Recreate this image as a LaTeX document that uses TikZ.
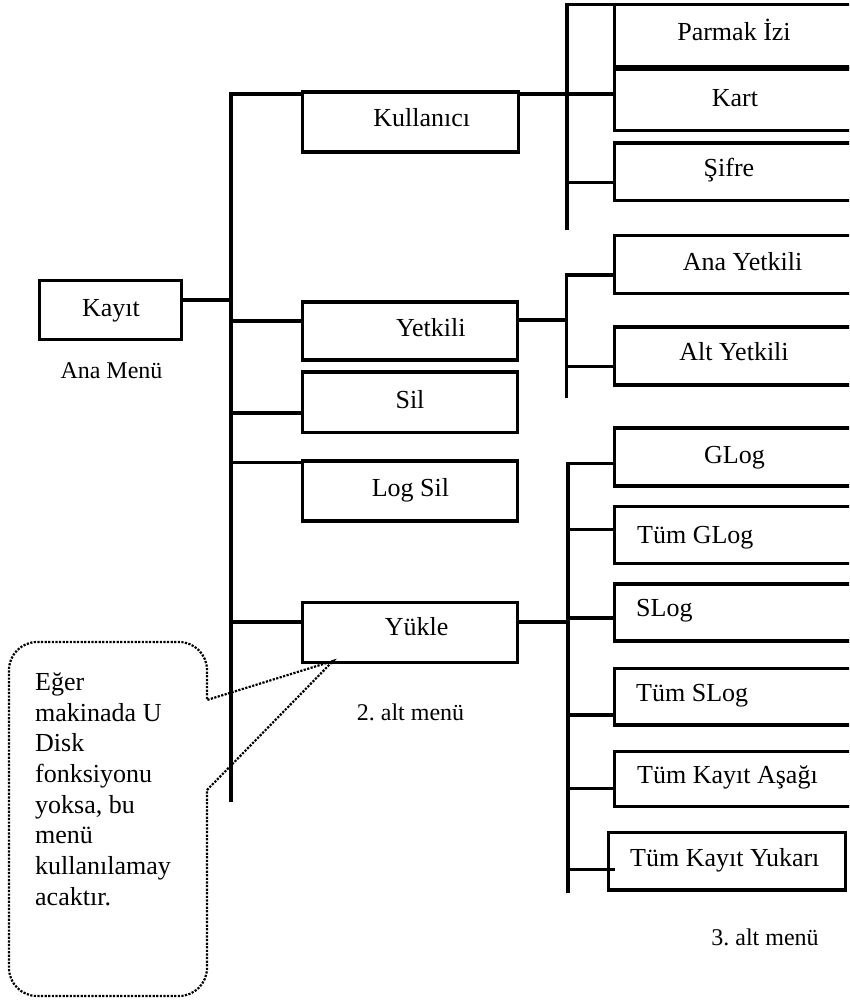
\documentclass[tikz,border=0pt]{standalone}
\usepackage{fontspec}
\setmainfont{Liberation Serif}
\frenchspacing
\begin{document}
\begin{tikzpicture}[x=1pt,y=-1pt,
  box/.style={draw, line width=3.3pt, rectangle, inner sep=0pt, outer sep=0pt, anchor=north west},
  conn/.style={line width=3.2pt},
  txt/.style={font=\fontsize{26}{31}\selectfont, inner sep=0pt, anchor=base},
  txtl/.style={font=\fontsize{26}{31}\selectfont, inner sep=0pt, anchor=base west},
  lbl/.style={font=\fontsize{24}{29}\selectfont, inner sep=0pt, anchor=base},
  note/.style={line width=2.2pt, dash pattern=on 2.2pt off 1.4pt},
  notetext/.style={font=\fontsize{26}{30.7}\selectfont, inner sep=0pt, align=left, anchor=north west}]
\clip (0,0) rectangle (849,1003);
% main and first level boxes
\node[box,minimum width=142pt,minimum height=59pt] (kayit) at (39.5,280.5) {};
\node[box,minimum width=216pt,minimum height=60pt] (kul) at (302.5,92) {};
\node[box,minimum width=215pt,minimum height=58pt] (yet) at (302.5,302) {};
\node[box,minimum width=215pt,minimum height=60.5pt] (sil) at (302.5,372) {};
\node[box,minimum width=215pt,minimum height=60pt] (logsil) at (302.5,461) {};
\node[box,minimum width=215pt,minimum height=60pt] (yukle) at (302.5,602.5) {};
% third level boxes
\node[box,minimum width=260pt,minimum height=62.5pt] (parmak) at (614.5,4.5) {};
\node[box,minimum width=260pt,minimum height=61.5pt] (kart) at (614.5,69) {};
\node[box,minimum width=260pt,minimum height=57.5pt] (sifre) at (614.5,143) {};
\node[box,minimum width=260pt,minimum height=58pt] (anayet) at (614.5,235.5) {};
\node[box,minimum width=260pt,minimum height=58pt] (altyet) at (614.5,327) {};
\node[box,minimum width=260pt,minimum height=58pt] (glog) at (614.5,428) {};
\node[box,minimum width=260pt,minimum height=57pt] (tumglog) at (614.5,506.5) {};
\node[box,minimum width=260pt,minimum height=57pt] (slog) at (614.5,584) {};
\node[box,minimum width=260pt,minimum height=56.5pt] (tumslog) at (614.5,668.5) {};
\node[box,minimum width=260pt,minimum height=55pt] (asagi) at (614.5,751.5) {};
\node[box,minimum width=237pt,minimum height=57.5pt] (yukari) at (608.5,832.5) {};
% texts
\node[txt] (tkayit) at (111,316) {Kayıt};
\node[lbl] (anamenu) at (111.5,378.3) {Ana Menü};
\node[txt] (tkul) at (421.7,126.7) {Kullanıcı};
\node[txt] (tyet) at (430.8,336.7) {Yetkili};
\node[txt] (tsil) at (410,408.3) {Sil};
\node[txt] (tlogsil) at (410.5,496) {Log Sil};
\node[txt] (tyukle) at (416.7,635) {Yükle};
\node[lbl] (alt2) at (410.5,720) {2. alt menü};
\node[txt] (tparmak) at (734,40.7) {Parmak İzi};
\node[txt] (tkart) at (735,106.7) {Kart};
\node[txt] (tsifre) at (729,176.7) {Şifre};
\node[txt] (tanayet) at (742.5,270.7) {Ana Yetkili};
\node[txt] (taltyet) at (734,360.7) {Alt Yetkili};
\node[txt] (tglog) at (734.5,463.3) {GLog};
\node[txtl] (ttumglog) at (637,543.3) {Tüm GLog};
\node[txtl] (tslog) at (636,616) {SLog};
\node[txtl] (ttumslog) at (636,701.7) {Tüm SLog};
\node[txtl] (tasagi) at (637,783.3) {Tüm Kayıt Aşağı};
\node[txtl] (tyukari) at (630,866.7) {Tüm Kayıt Yukarı};
\node[lbl] (alt3) at (765,945) {3. alt menü};
% spine 1
\coordinate (a1) at (231,94);
\coordinate (a2) at (231,801.5);
\draw[conn] (a2) -- (a1) -- (a1 -| kul.west);
\coordinate (jk) at (231,300);
\coordinate (jy) at (231,321);
\coordinate (js) at (231,413);
\coordinate (jl) at (231,462.5);
\coordinate (ju) at (231,622);
\draw[conn] (jk) -- (jk -| kayit.east);
\draw[conn] (jy) -- (jy -| yet.west);
\draw[conn] (js) -- (js -| sil.west);
\draw[conn] (jl) -- (jl -| logsil.west);
\draw[conn] (ju) -- (ju -| yukle.west);
% spine 2 (Kullanici)
\draw[conn] (a1 -| kul.east) -- (a1 -| kart.west);
\coordinate (b1) at (567,4.5);
\coordinate (b2) at (567,230);
\coordinate (bs) at (567,182.7);
\draw[conn] (b2) -- (b1) -- (b1 -| parmak.west);
\draw[conn] (bs) -- (bs -| sifre.west);
% spine 3 (Yetkili)
\coordinate (c1) at (566.5,275);
\coordinate (c2) at (566.5,398);
\coordinate (cy) at (566.5,320);
\coordinate (ca) at (566.5,366.7);
\draw[conn] (c2) -- (c1) -- (c1 -| anayet.west);
\draw[conn] (cy -| yet.east) -- (cy);
\draw[conn] (ca) -- (ca -| altyet.west);
% spine 4 (Yukle)
\coordinate (d1) at (568,463.3);
\coordinate (d2) at (568,893.3);
\coordinate (dg) at (568,529.3);
\coordinate (ds) at (568,618);
\coordinate (du) at (568,622);
\coordinate (dt) at (568,715);
\coordinate (da) at (568,788.3);
\coordinate (dk) at (568,869.3);
\draw[conn] (d2) -- (d1) -- (d1 -| glog.west);
\draw[conn] (dg) -- (dg -| tumglog.west);
\draw[conn] (ds) -- (ds -| slog.west);
\draw[conn] (du -| yukle.east) -- (du);
\draw[conn] (dt) -- (dt -| tumslog.west);
\draw[conn] (da) -- (da -| asagi.west);
\draw[conn] (dk) -- (dk -| asagi.west);
% callout
\coordinate (tip) at (333,661);
\coordinate (pA) at (207,700);
\coordinate (pB) at (207,790);
\draw[note] (pB) -- (tip) -- (pA) [rounded corners=28pt] -- (207,642) -- (9,642) -- (9,996) -- (207,996) [sharp corners] -- (pB);
\node[notetext] (ntext) at (35,672.5) {Eğer\\makinada U\\Disk\\fonksiyonu\\yoksa, bu\\menü\\kullanılamay\\acaktır.};
\end{tikzpicture}
\end{document}
